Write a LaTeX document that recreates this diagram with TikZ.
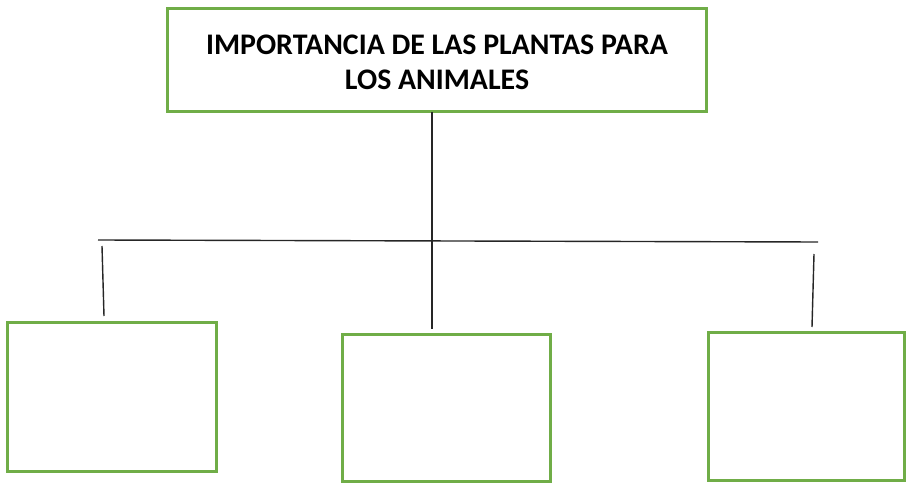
\documentclass[tikz,border=0pt]{standalone}
\usepackage{fontspec}
\setmainfont{Carlito}
\usepackage{xcolor}
\usepackage{tikz}
\usetikzlibrary{calc,positioning}

\definecolor{boxgreen}{HTML}{70AD47}

\begin{document}
\begin{tikzpicture}[
    x=0.02cm,
    y=-0.02cm,
    greenbox/.style={
        draw=boxgreen,
        line width=1.7pt,
        fill=white,
        inner sep=0pt
    },
    linkline/.style={
        draw=black!85,
        line width=0.8pt
    }
]

\useasboundingbox (0,0) rectangle (906,483);

% Title box
\node[greenbox,
    minimum width=10.8cm,
    minimum height=2.08cm,
    font=\fontsize{17}{20}\selectfont\bfseries
] (title) at (437,60)
{\raisebox{-3pt}[\height][\depth]{\begin{tabular}{@{}c@{}}IMPORTANCIA DE LAS PLANTAS PARA\\LOS ANIMALES\end{tabular}}};

% Three empty boxes
\node[greenbox,minimum width=4.2cm,minimum height=3.0cm] (boxleft) at (112,397) {};
\node[greenbox,minimum width=4.18cm,minimum height=2.96cm] (boxmid) at (446.5,408) {};
\node[greenbox,minimum width=3.94cm,minimum height=2.98cm] (boxright) at (806.5,406.5) {};

% Branch points
\coordinate (stemtop) at (432,112);
\coordinate (stembottom) at (432,329);
\coordinate (barleft) at (98,240);
\coordinate (barright) at (818,242);
\coordinate (legleft) at (102,246);
\coordinate (legleftend) at (104,316);
\coordinate (legright) at (814,254);
\coordinate (legrightend) at (812,327);

\draw[linkline] (stemtop) -- (stembottom);
\draw[linkline] (barleft) -- (barright);
\draw[linkline] (legleft) -- (legleftend);
\draw[linkline] (legright) -- (legrightend);

\end{tikzpicture}
\end{document}
